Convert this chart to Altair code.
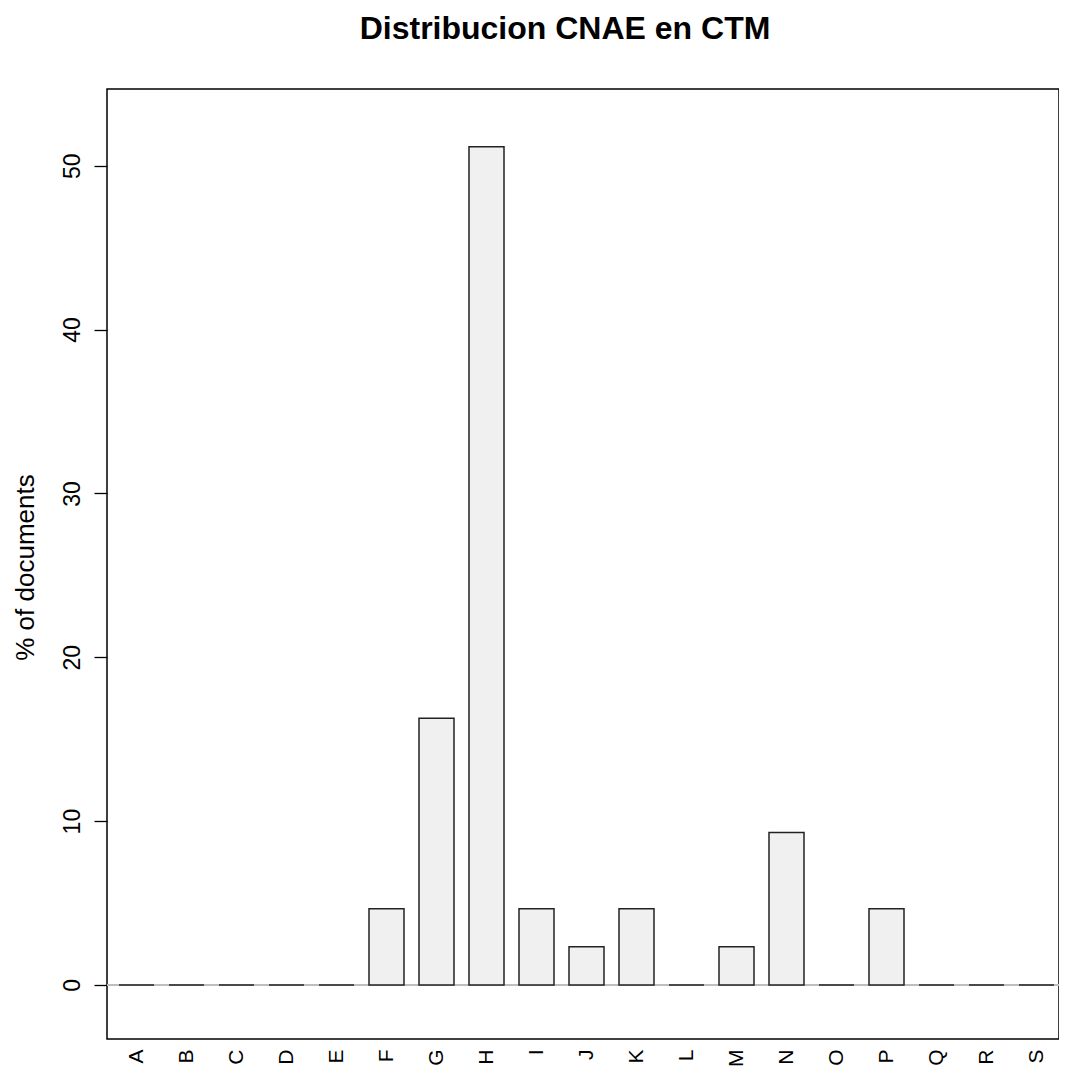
import altair as alt
import pandas as pd

categories = ["A", "B", "C", "D", "E", "F", "G", "H", "I", "J",
              "K", "L", "M", "N", "O", "P", "Q", "R", "S"]
percent = [0, 0, 0, 0, 0, 4.65, 16.28, 51.16, 4.65, 2.33,
           4.65, 0, 2.33, 9.30, 0, 4.65, 0, 0, 0]
y_ticks = [0, 10, 20, 30, 40, 50]

df = pd.DataFrame({"cat": categories, "pct": percent})

FONT = "Liberation Sans"

x = alt.X("cat:N", sort=categories, title=None,
          scale=alt.Scale(paddingInner=0.3, paddingOuter=0.24, range=[0, 959]),
          axis=alt.Axis(labelAngle=270, labelFontSize=21, labelFont=FONT,
                        labelColor="#000", ticks=False, domain=False,
                        labelPadding=10))
y = alt.Y("pct:Q", title="% of documents",
          scale=alt.Scale(domain=[-3.3, 54.68], nice=False, zero=False),
          axis=alt.Axis(values=y_ticks, grid=False, domain=False,
                        tickSize=13, tickColor="#000", tickWidth=1.3,
                        labelAngle=270, labelFontSize=23, labelFont=FONT,
                        labelColor="#000", labelPadding=10,
                        titleFont=FONT, titleFontSize=26, titleFontWeight="normal",
                        titleColor="#000", titleAngle=270, titleX=-74, titleY=478,
                        titleAlign="center", titleBaseline="alphabetic"))

base = alt.Chart(df)

zero_line = base.mark_rule(color="#bebebe", strokeWidth=1.5).encode(y=alt.datum(0))

bars = base.transform_filter(alt.datum.pct > 0).mark_bar(
    fill="#f0f0f0", stroke="#222", strokeWidth=1.5
).encode(x=x, y=y, y2=alt.datum(0))

zero_bars = base.transform_filter(alt.datum.pct == 0).mark_tick(
    color="#222", thickness=1.5, size=35, opacity=1
).encode(x=x, y=y)

chart = alt.layer(zero_line, bars, zero_bars).properties(
    width=952, height=950,
    title=alt.TitleParams("Distribucion CNAE en CTM", font=FONT, fontSize=32,
                          fontWeight="bold", color="#000", anchor="middle",
                          dx=-18, offset=18, baseline="alphabetic"),
    padding={"left": 99, "top": 81, "right": 0, "bottom": 29},
    autosize=alt.AutoSizeParams(type="none"),
    background="white",
).configure_view(stroke="#000", strokeWidth=1.5)

chart.save("out.html", embed_options={"renderer": "svg", "actions": False})
